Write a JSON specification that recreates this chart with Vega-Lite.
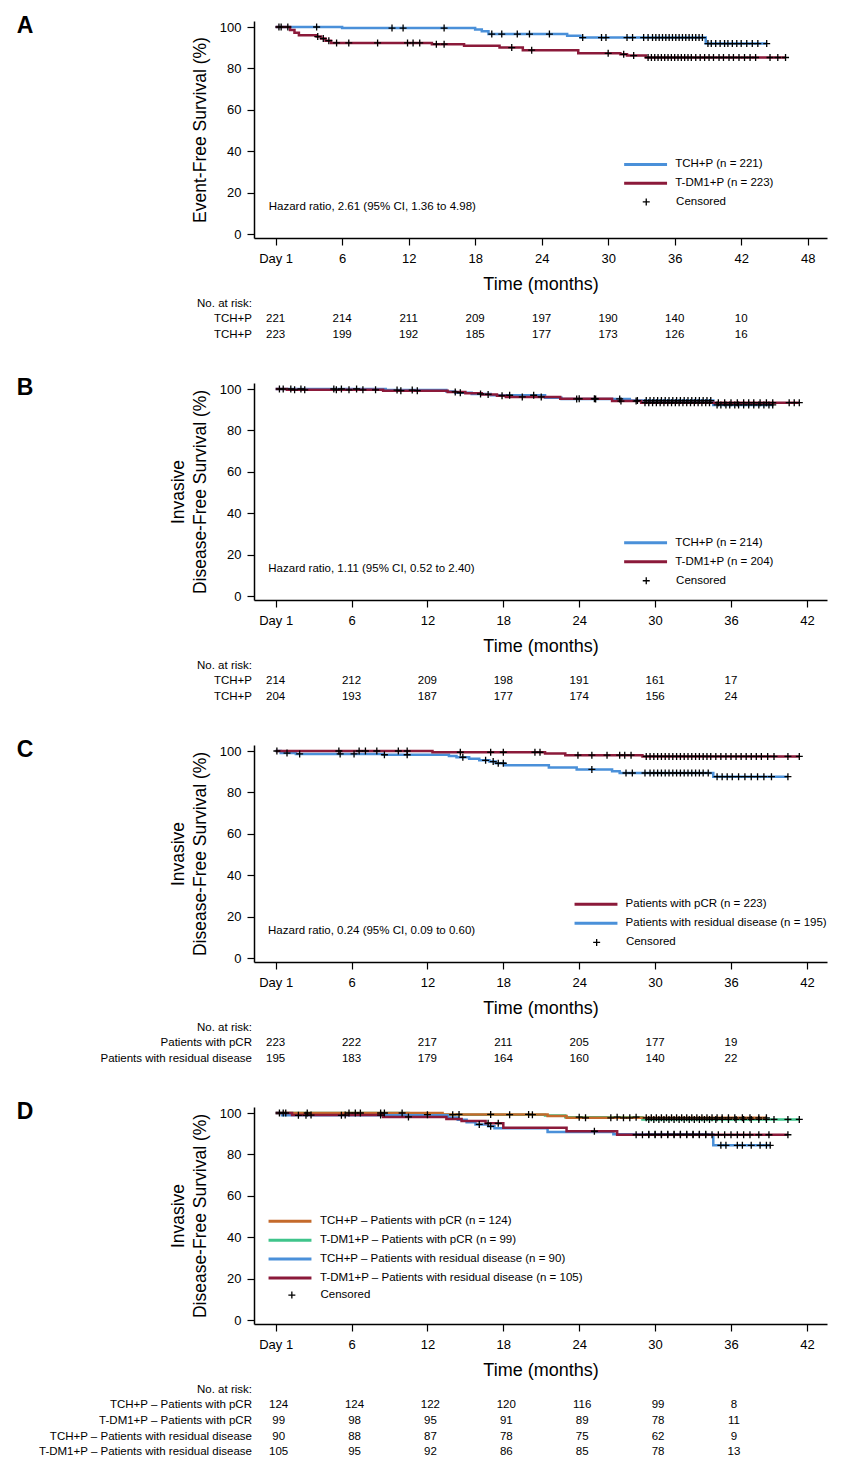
{
  "$schema": "https://vega.github.io/schema/vega-lite/v6.json",
  "padding": {"left": 16, "top": 14, "right": 2, "bottom": 2},
  "spacing": 33,
  "resolve": {"scale": {"color": "independent", "shape": "independent"}, "legend": {"color": "independent", "shape": "independent"}},
  "config": {
    "view": {"stroke": null},
    "font": "Liberation Sans",
    "axis": {"grid": false, "domainColor": "black", "domainWidth": 1.5, "tickColor": "black", "tickWidth": 1.2, "tickSize": 7, "labelColor": "black", "labelFontSize": 13, "labelPadding": 7, "labelFlush": false, "titleColor": "black", "titleFontWeight": "normal"},
    "axisX": {"titleFontSize": 18, "titlePadding": 10},
    "axisY": {"titleFontSize": 17.5, "titlePadding": 10, "labelPadding": 6, "titleLineHeight": 21.5},
    "legend": {"labelFontSize": 11.5, "labelColor": "black", "labelLimit": 400, "padding": 0, "rowPadding": 5.9},
    "text": {"fontSize": 11.5, "color": "black"}
  },
  "datasets": {
    "curvesA": [
      {"g": "TCH+P (n = 221)", "t": 0, "s": 100}, {"g": "TCH+P (n = 221)", "t": 6.0, "s": 99.5}, {"g": "TCH+P (n = 221)", "t": 18.0, "s": 98.8}, {"g": "TCH+P (n = 221)", "t": 18.6, "s": 98.0}, {"g": "TCH+P (n = 221)", "t": 19.2, "s": 96.6}, {"g": "TCH+P (n = 221)", "t": 26.3, "s": 95.8}, {"g": "TCH+P (n = 221)", "t": 27.5, "s": 94.9}, {"g": "TCH+P (n = 221)", "t": 38.8, "s": 92.0}, {"g": "TCH+P (n = 221)", "t": 44.3, "s": 92.0},
      {"g": "T-DM1+P (n = 223)", "t": 0, "s": 100}, {"g": "T-DM1+P (n = 223)", "t": 1.3, "s": 98.6}, {"g": "T-DM1+P (n = 223)", "t": 1.7, "s": 97.2}, {"g": "T-DM1+P (n = 223)", "t": 2.1, "s": 96.0}, {"g": "T-DM1+P (n = 223)", "t": 3.7, "s": 95.4}, {"g": "T-DM1+P (n = 223)", "t": 4.1, "s": 94.4}, {"g": "T-DM1+P (n = 223)", "t": 4.5, "s": 93.4}, {"g": "T-DM1+P (n = 223)", "t": 5.0, "s": 92.3}, {"g": "T-DM1+P (n = 223)", "t": 14.1, "s": 91.7}, {"g": "T-DM1+P (n = 223)", "t": 17.0, "s": 90.9}, {"g": "T-DM1+P (n = 223)", "t": 20.2, "s": 90.1}, {"g": "T-DM1+P (n = 223)", "t": 22.3, "s": 88.8}, {"g": "T-DM1+P (n = 223)", "t": 27.3, "s": 87.3}, {"g": "T-DM1+P (n = 223)", "t": 31.1, "s": 86.8}, {"g": "T-DM1+P (n = 223)", "t": 31.7, "s": 86.2}, {"g": "T-DM1+P (n = 223)", "t": 33.4, "s": 85.3}, {"g": "T-DM1+P (n = 223)", "t": 46.0, "s": 85.3}
    ],
    "censA": [
      {"t": 0.3, "s": 100}, {"t": 3.7, "s": 100}, {"t": 10.5, "s": 99.5}, {"t": 11.5, "s": 99.5}, {"t": 15.2, "s": 99.5}, {"t": 19.5, "s": 96.6}, {"t": 20.4, "s": 96.6}, {"t": 21.8, "s": 96.6}, {"t": 22.9, "s": 96.6}, {"t": 24.7, "s": 96.6}, {"t": 27.7, "s": 94.9}, {"t": 29.4, "s": 94.9}, {"t": 29.8, "s": 94.9}, {"t": 31.7, "s": 94.9}, {"t": 32.2, "s": 94.9}, {"t": 33.2, "s": 94.9}, {"t": 33.6, "s": 94.9}, {"t": 34.0, "s": 94.9}, {"t": 34.3, "s": 94.9}, {"t": 34.6, "s": 94.9}, {"t": 34.9, "s": 94.9}, {"t": 35.2, "s": 94.9}, {"t": 35.5, "s": 94.9}, {"t": 35.8, "s": 94.9}, {"t": 36.1, "s": 94.9}, {"t": 36.4, "s": 94.9}, {"t": 36.7, "s": 94.9}, {"t": 37.0, "s": 94.9}, {"t": 37.3, "s": 94.9}, {"t": 37.6, "s": 94.9}, {"t": 37.9, "s": 94.9}, {"t": 38.2, "s": 94.9}, {"t": 38.5, "s": 94.9}, {"t": 39.0, "s": 92.0}, {"t": 39.3, "s": 92.0}, {"t": 39.7, "s": 92.0}, {"t": 40.1, "s": 92.0}, {"t": 40.5, "s": 92.0}, {"t": 40.8, "s": 92.0}, {"t": 41.2, "s": 92.0}, {"t": 41.6, "s": 92.0}, {"t": 42.0, "s": 92.0}, {"t": 42.5, "s": 92.0}, {"t": 43.0, "s": 92.0}, {"t": 43.5, "s": 92.0}, {"t": 44.3, "s": 92.0},
      {"t": 0.5, "s": 100}, {"t": 1.1, "s": 100}, {"t": 3.8, "s": 95.4}, {"t": 4.3, "s": 94.4}, {"t": 4.8, "s": 93.4}, {"t": 5.5, "s": 92.3}, {"t": 6.6, "s": 92.3}, {"t": 9.2, "s": 92.3}, {"t": 11.9, "s": 92.3}, {"t": 12.4, "s": 92.3}, {"t": 13.0, "s": 92.3}, {"t": 14.5, "s": 91.7}, {"t": 15.2, "s": 91.7}, {"t": 21.3, "s": 90.1}, {"t": 23.1, "s": 88.8}, {"t": 30.0, "s": 87.3}, {"t": 31.4, "s": 86.8}, {"t": 32.3, "s": 86.2}, {"t": 33.6, "s": 85.3}, {"t": 33.9, "s": 85.3}, {"t": 34.2, "s": 85.3}, {"t": 34.5, "s": 85.3}, {"t": 34.8, "s": 85.3}, {"t": 35.1, "s": 85.3}, {"t": 35.4, "s": 85.3}, {"t": 35.7, "s": 85.3}, {"t": 36.0, "s": 85.3}, {"t": 36.3, "s": 85.3}, {"t": 36.6, "s": 85.3}, {"t": 36.9, "s": 85.3}, {"t": 37.2, "s": 85.3}, {"t": 37.5, "s": 85.3}, {"t": 37.9, "s": 85.3}, {"t": 38.3, "s": 85.3}, {"t": 38.7, "s": 85.3}, {"t": 39.1, "s": 85.3}, {"t": 39.5, "s": 85.3}, {"t": 40.0, "s": 85.3}, {"t": 40.4, "s": 85.3}, {"t": 40.9, "s": 85.3}, {"t": 41.3, "s": 85.3}, {"t": 41.8, "s": 85.3}, {"t": 42.3, "s": 85.3}, {"t": 42.8, "s": 85.3}, {"t": 43.3, "s": 85.3}, {"t": 44.6, "s": 85.3}, {"t": 45.3, "s": 85.3}, {"t": 46.0, "s": 85.3}
    ],
    "riskA": [
      {"row": 1, "t": 0, "n": 221}, {"row": 1, "t": 6, "n": 214}, {"row": 1, "t": 12, "n": 211}, {"row": 1, "t": 18, "n": 209}, {"row": 1, "t": 24, "n": 197}, {"row": 1, "t": 30, "n": 190}, {"row": 1, "t": 36, "n": 140}, {"row": 1, "t": 42, "n": 10},
      {"row": 2, "t": 0, "n": 223}, {"row": 2, "t": 6, "n": 199}, {"row": 2, "t": 12, "n": 192}, {"row": 2, "t": 18, "n": 185}, {"row": 2, "t": 24, "n": 177}, {"row": 2, "t": 30, "n": 173}, {"row": 2, "t": 36, "n": 126}, {"row": 2, "t": 42, "n": 16}
    ],
    "labelsA": [{"row": 0, "label": "No. at risk:"}, {"row": 1, "label": "TCH+P"}, {"row": 2, "label": "TCH+P"}],
    "curvesB": [
      {"g": "TCH+P (n = 214)", "t": 0, "s": 100}, {"g": "TCH+P (n = 214)", "t": 8.7, "s": 99.5}, {"g": "TCH+P (n = 214)", "t": 13.5, "s": 98.8}, {"g": "TCH+P (n = 214)", "t": 14.2, "s": 98.2}, {"g": "TCH+P (n = 214)", "t": 15.5, "s": 97.6}, {"g": "TCH+P (n = 214)", "t": 17.0, "s": 97.0}, {"g": "TCH+P (n = 214)", "t": 21.3, "s": 95.8}, {"g": "TCH+P (n = 214)", "t": 22.6, "s": 95.2}, {"g": "TCH+P (n = 214)", "t": 28.0, "s": 94.4}, {"g": "TCH+P (n = 214)", "t": 34.6, "s": 92.3}, {"g": "TCH+P (n = 214)", "t": 39.3, "s": 92.3},
      {"g": "T-DM1+P (n = 204)", "t": 0, "s": 100}, {"g": "T-DM1+P (n = 204)", "t": 0.9, "s": 99.6}, {"g": "T-DM1+P (n = 204)", "t": 8.5, "s": 99.2}, {"g": "T-DM1+P (n = 204)", "t": 13.6, "s": 98.6}, {"g": "T-DM1+P (n = 204)", "t": 15.0, "s": 98.0}, {"g": "T-DM1+P (n = 204)", "t": 16.3, "s": 97.4}, {"g": "T-DM1+P (n = 204)", "t": 17.5, "s": 96.8}, {"g": "T-DM1+P (n = 204)", "t": 18.2, "s": 96.2}, {"g": "T-DM1+P (n = 204)", "t": 22.5, "s": 95.3}, {"g": "T-DM1+P (n = 204)", "t": 26.6, "s": 94.2}, {"g": "T-DM1+P (n = 204)", "t": 28.9, "s": 93.4}, {"g": "T-DM1+P (n = 204)", "t": 41.4, "s": 93.4}
    ],
    "censB": [
      {"t": 0.3, "s": 100}, {"t": 1.2, "s": 100}, {"t": 2.0, "s": 100}, {"t": 4.6, "s": 100}, {"t": 5.2, "s": 100}, {"t": 6.4, "s": 100}, {"t": 9.6, "s": 99.5}, {"t": 10.8, "s": 99.5}, {"t": 14.6, "s": 98.2}, {"t": 16.2, "s": 97.6}, {"t": 18.5, "s": 97.0}, {"t": 20.4, "s": 97.0}, {"t": 23.8, "s": 95.2}, {"t": 25.3, "s": 95.2}, {"t": 27.2, "s": 95.2}, {"t": 28.6, "s": 94.4}, {"t": 29.3, "s": 94.4}, {"t": 29.6, "s": 94.4}, {"t": 29.9, "s": 94.4}, {"t": 30.2, "s": 94.4}, {"t": 30.5, "s": 94.4}, {"t": 30.8, "s": 94.4}, {"t": 31.1, "s": 94.4}, {"t": 31.4, "s": 94.4}, {"t": 31.7, "s": 94.4}, {"t": 32.0, "s": 94.4}, {"t": 32.3, "s": 94.4}, {"t": 32.6, "s": 94.4}, {"t": 32.9, "s": 94.4}, {"t": 33.2, "s": 94.4}, {"t": 33.5, "s": 94.4}, {"t": 33.8, "s": 94.4}, {"t": 34.1, "s": 94.4}, {"t": 34.4, "s": 94.4}, {"t": 34.9, "s": 92.3}, {"t": 35.2, "s": 92.3}, {"t": 35.6, "s": 92.3}, {"t": 35.9, "s": 92.3}, {"t": 36.3, "s": 92.3}, {"t": 36.6, "s": 92.3}, {"t": 37.0, "s": 92.3}, {"t": 37.4, "s": 92.3}, {"t": 37.8, "s": 92.3}, {"t": 38.2, "s": 92.3}, {"t": 38.6, "s": 92.3}, {"t": 39.0, "s": 92.3}, {"t": 39.3, "s": 92.3},
      {"t": 0.6, "s": 100}, {"t": 1.5, "s": 99.6}, {"t": 2.3, "s": 99.6}, {"t": 4.8, "s": 99.6}, {"t": 5.8, "s": 99.6}, {"t": 6.9, "s": 99.6}, {"t": 7.9, "s": 99.6}, {"t": 9.9, "s": 99.2}, {"t": 11.2, "s": 99.2}, {"t": 14.2, "s": 98.6}, {"t": 16.8, "s": 97.4}, {"t": 17.9, "s": 96.8}, {"t": 19.5, "s": 96.2}, {"t": 21.0, "s": 96.2}, {"t": 24.0, "s": 95.3}, {"t": 25.2, "s": 95.3}, {"t": 27.3, "s": 94.2}, {"t": 28.5, "s": 94.2}, {"t": 29.2, "s": 93.4}, {"t": 29.5, "s": 93.4}, {"t": 29.8, "s": 93.4}, {"t": 30.1, "s": 93.4}, {"t": 30.4, "s": 93.4}, {"t": 30.7, "s": 93.4}, {"t": 31.0, "s": 93.4}, {"t": 31.3, "s": 93.4}, {"t": 31.6, "s": 93.4}, {"t": 31.9, "s": 93.4}, {"t": 32.2, "s": 93.4}, {"t": 32.5, "s": 93.4}, {"t": 32.8, "s": 93.4}, {"t": 33.1, "s": 93.4}, {"t": 33.4, "s": 93.4}, {"t": 33.7, "s": 93.4}, {"t": 34.0, "s": 93.4}, {"t": 34.3, "s": 93.4}, {"t": 35.0, "s": 93.4}, {"t": 35.5, "s": 93.4}, {"t": 36.0, "s": 93.4}, {"t": 36.5, "s": 93.4}, {"t": 37.0, "s": 93.4}, {"t": 37.4, "s": 93.4}, {"t": 37.8, "s": 93.4}, {"t": 38.3, "s": 93.4}, {"t": 38.8, "s": 93.4}, {"t": 39.3, "s": 93.4}, {"t": 40.6, "s": 93.4}, {"t": 41.0, "s": 93.4}, {"t": 41.4, "s": 93.4}
    ],
    "riskB": [
      {"row": 1, "t": 0, "n": 214}, {"row": 1, "t": 6, "n": 212}, {"row": 1, "t": 12, "n": 209}, {"row": 1, "t": 18, "n": 198}, {"row": 1, "t": 24, "n": 191}, {"row": 1, "t": 30, "n": 161}, {"row": 1, "t": 36, "n": 17},
      {"row": 2, "t": 0, "n": 204}, {"row": 2, "t": 6, "n": 193}, {"row": 2, "t": 12, "n": 187}, {"row": 2, "t": 18, "n": 177}, {"row": 2, "t": 24, "n": 174}, {"row": 2, "t": 30, "n": 156}, {"row": 2, "t": 36, "n": 24}
    ],
    "labelsB": [{"row": 0, "label": "No. at risk:"}, {"row": 1, "label": "TCH+P"}, {"row": 2, "label": "TCH+P"}],
    "curvesC": [
      {"g": "Patients with residual disease (n = 195)", "t": 0, "s": 100}, {"g": "Patients with residual disease (n = 195)", "t": 0.4, "s": 99.0}, {"g": "Patients with residual disease (n = 195)", "t": 1.6, "s": 98.6}, {"g": "Patients with residual disease (n = 195)", "t": 8.5, "s": 98.2}, {"g": "Patients with residual disease (n = 195)", "t": 13.7, "s": 97.6}, {"g": "Patients with residual disease (n = 195)", "t": 14.3, "s": 97.0}, {"g": "Patients with residual disease (n = 195)", "t": 15.3, "s": 96.3}, {"g": "Patients with residual disease (n = 195)", "t": 16.1, "s": 95.5}, {"g": "Patients with residual disease (n = 195)", "t": 16.9, "s": 94.9}, {"g": "Patients with residual disease (n = 195)", "t": 17.4, "s": 94.1}, {"g": "Patients with residual disease (n = 195)", "t": 18.1, "s": 93.1}, {"g": "Patients with residual disease (n = 195)", "t": 21.6, "s": 92.0}, {"g": "Patients with residual disease (n = 195)", "t": 23.8, "s": 91.1}, {"g": "Patients with residual disease (n = 195)", "t": 26.6, "s": 90.2}, {"g": "Patients with residual disease (n = 195)", "t": 27.2, "s": 89.4}, {"g": "Patients with residual disease (n = 195)", "t": 34.6, "s": 87.6}, {"g": "Patients with residual disease (n = 195)", "t": 40.5, "s": 87.6},
      {"g": "Patients with pCR (n = 223)", "t": 0, "s": 100}, {"g": "Patients with pCR (n = 223)", "t": 12.4, "s": 99.4}, {"g": "Patients with pCR (n = 223)", "t": 21.3, "s": 98.8}, {"g": "Patients with pCR (n = 223)", "t": 22.9, "s": 98.0}, {"g": "Patients with pCR (n = 223)", "t": 29.0, "s": 97.4}, {"g": "Patients with pCR (n = 223)", "t": 41.4, "s": 97.4}
    ],
    "censC": [
      {"t": 0.1, "s": 100}, {"t": 5.0, "s": 100}, {"t": 6.6, "s": 100}, {"t": 7.1, "s": 100}, {"t": 8.0, "s": 100}, {"t": 9.7, "s": 100}, {"t": 10.4, "s": 100}, {"t": 14.6, "s": 99.4}, {"t": 17.0, "s": 99.4}, {"t": 18.0, "s": 99.4}, {"t": 20.5, "s": 99.4}, {"t": 20.9, "s": 99.4}, {"t": 23.9, "s": 98.0}, {"t": 25.0, "s": 98.0}, {"t": 26.2, "s": 98.0}, {"t": 27.2, "s": 98.0}, {"t": 27.6, "s": 98.0}, {"t": 28.1, "s": 98.0}, {"t": 29.3, "s": 97.4}, {"t": 29.6, "s": 97.4}, {"t": 29.9, "s": 97.4}, {"t": 30.2, "s": 97.4}, {"t": 30.5, "s": 97.4}, {"t": 30.8, "s": 97.4}, {"t": 31.1, "s": 97.4}, {"t": 31.4, "s": 97.4}, {"t": 31.7, "s": 97.4}, {"t": 32.0, "s": 97.4}, {"t": 32.3, "s": 97.4}, {"t": 32.6, "s": 97.4}, {"t": 32.9, "s": 97.4}, {"t": 33.2, "s": 97.4}, {"t": 33.5, "s": 97.4}, {"t": 33.8, "s": 97.4}, {"t": 34.1, "s": 97.4}, {"t": 34.4, "s": 97.4}, {"t": 34.8, "s": 97.4}, {"t": 35.2, "s": 97.4}, {"t": 35.6, "s": 97.4}, {"t": 36.0, "s": 97.4}, {"t": 36.4, "s": 97.4}, {"t": 36.8, "s": 97.4}, {"t": 37.2, "s": 97.4}, {"t": 37.6, "s": 97.4}, {"t": 38.0, "s": 97.4}, {"t": 38.4, "s": 97.4}, {"t": 38.9, "s": 97.4}, {"t": 39.4, "s": 97.4}, {"t": 40.5, "s": 97.4}, {"t": 41.4, "s": 97.4},
      {"t": 0.9, "s": 99.0}, {"t": 1.9, "s": 98.6}, {"t": 5.1, "s": 98.6}, {"t": 6.2, "s": 98.6}, {"t": 8.6, "s": 98.2}, {"t": 10.4, "s": 98.2}, {"t": 14.8, "s": 97.0}, {"t": 16.6, "s": 95.5}, {"t": 17.2, "s": 94.9}, {"t": 17.6, "s": 94.1}, {"t": 18.0, "s": 94.1}, {"t": 25.0, "s": 91.1}, {"t": 27.7, "s": 89.4}, {"t": 28.2, "s": 89.4}, {"t": 29.2, "s": 89.4}, {"t": 29.6, "s": 89.4}, {"t": 29.9, "s": 89.4}, {"t": 30.2, "s": 89.4}, {"t": 30.5, "s": 89.4}, {"t": 30.8, "s": 89.4}, {"t": 31.1, "s": 89.4}, {"t": 31.4, "s": 89.4}, {"t": 31.7, "s": 89.4}, {"t": 32.0, "s": 89.4}, {"t": 32.3, "s": 89.4}, {"t": 32.6, "s": 89.4}, {"t": 32.9, "s": 89.4}, {"t": 33.2, "s": 89.4}, {"t": 33.5, "s": 89.4}, {"t": 33.8, "s": 89.4}, {"t": 34.2, "s": 89.4}, {"t": 34.9, "s": 87.6}, {"t": 35.3, "s": 87.6}, {"t": 35.7, "s": 87.6}, {"t": 36.1, "s": 87.6}, {"t": 36.6, "s": 87.6}, {"t": 37.1, "s": 87.6}, {"t": 37.6, "s": 87.6}, {"t": 38.1, "s": 87.6}, {"t": 38.6, "s": 87.6}, {"t": 39.2, "s": 87.6}, {"t": 40.5, "s": 87.6}
    ],
    "riskC": [
      {"row": 1, "t": 0, "n": 223}, {"row": 1, "t": 6, "n": 222}, {"row": 1, "t": 12, "n": 217}, {"row": 1, "t": 18, "n": 211}, {"row": 1, "t": 24, "n": 205}, {"row": 1, "t": 30, "n": 177}, {"row": 1, "t": 36, "n": 19},
      {"row": 2, "t": 0, "n": 195}, {"row": 2, "t": 6, "n": 183}, {"row": 2, "t": 12, "n": 179}, {"row": 2, "t": 18, "n": 164}, {"row": 2, "t": 24, "n": 160}, {"row": 2, "t": 30, "n": 140}, {"row": 2, "t": 36, "n": 22}
    ],
    "labelsC": [{"row": 0, "label": "No. at risk:"}, {"row": 1, "label": "Patients with pCR"}, {"row": 2, "label": "Patients with residual disease"}],
    "curvesD": [
      {"g": "T-DM1+P – Patients with pCR (n = 99)", "t": 0, "s": 100}, {"g": "T-DM1+P – Patients with pCR (n = 99)", "t": 10.5, "s": 99.2}, {"g": "T-DM1+P – Patients with pCR (n = 99)", "t": 21.3, "s": 98.8}, {"g": "T-DM1+P – Patients with pCR (n = 99)", "t": 22.9, "s": 98.0}, {"g": "T-DM1+P – Patients with pCR (n = 99)", "t": 29.0, "s": 96.9}, {"g": "T-DM1+P – Patients with pCR (n = 99)", "t": 41.4, "s": 96.9},
      {"g": "TCH+P – Patients with pCR (n = 124)", "t": 0, "s": 100}, {"g": "TCH+P – Patients with pCR (n = 124)", "t": 13.2, "s": 99.3}, {"g": "TCH+P – Patients with pCR (n = 124)", "t": 21.5, "s": 98.6}, {"g": "TCH+P – Patients with pCR (n = 124)", "t": 23.0, "s": 97.7}, {"g": "TCH+P – Patients with pCR (n = 124)", "t": 38.8, "s": 97.7},
      {"g": "TCH+P – Patients with residual disease (n = 90)", "t": 0, "s": 100}, {"g": "TCH+P – Patients with residual disease (n = 90)", "t": 0.5, "s": 98.9}, {"g": "TCH+P – Patients with residual disease (n = 90)", "t": 13.6, "s": 97.8}, {"g": "TCH+P – Patients with residual disease (n = 90)", "t": 14.4, "s": 96.7}, {"g": "TCH+P – Patients with residual disease (n = 90)", "t": 15.1, "s": 95.6}, {"g": "TCH+P – Patients with residual disease (n = 90)", "t": 15.8, "s": 94.5}, {"g": "TCH+P – Patients with residual disease (n = 90)", "t": 16.8, "s": 93.6}, {"g": "TCH+P – Patients with residual disease (n = 90)", "t": 17.3, "s": 92.7}, {"g": "TCH+P – Patients with residual disease (n = 90)", "t": 21.5, "s": 90.8}, {"g": "TCH+P – Patients with residual disease (n = 90)", "t": 26.7, "s": 89.7}, {"g": "TCH+P – Patients with residual disease (n = 90)", "t": 34.6, "s": 84.4}, {"g": "TCH+P – Patients with residual disease (n = 90)", "t": 39.1, "s": 84.4},
      {"g": "T-DM1+P – Patients with residual disease (n = 105)", "t": 0, "s": 100}, {"g": "T-DM1+P – Patients with residual disease (n = 105)", "t": 1.3, "s": 99.0}, {"g": "T-DM1+P – Patients with residual disease (n = 105)", "t": 8.5, "s": 98.1}, {"g": "T-DM1+P – Patients with residual disease (n = 105)", "t": 13.5, "s": 97.1}, {"g": "T-DM1+P – Patients with residual disease (n = 105)", "t": 14.7, "s": 96.1}, {"g": "T-DM1+P – Patients with residual disease (n = 105)", "t": 16.6, "s": 95.0}, {"g": "T-DM1+P – Patients with residual disease (n = 105)", "t": 18.0, "s": 92.9}, {"g": "T-DM1+P – Patients with residual disease (n = 105)", "t": 23.0, "s": 91.2}, {"g": "T-DM1+P – Patients with residual disease (n = 105)", "t": 27.0, "s": 89.5}, {"g": "T-DM1+P – Patients with residual disease (n = 105)", "t": 40.5, "s": 89.5}
    ],
    "censD": [
      {"t": 0.3, "s": 100}, {"t": 5.8, "s": 100}, {"t": 6.7, "s": 100}, {"t": 8.3, "s": 100}, {"t": 10.0, "s": 100}, {"t": 14.5, "s": 99.3}, {"t": 17.0, "s": 99.3}, {"t": 20.0, "s": 99.3}, {"t": 24.5, "s": 97.7}, {"t": 26.5, "s": 97.7}, {"t": 27.5, "s": 97.7}, {"t": 28.0, "s": 97.7}, {"t": 29.3, "s": 97.7}, {"t": 29.7, "s": 97.7}, {"t": 30.1, "s": 97.7}, {"t": 30.5, "s": 97.7}, {"t": 30.9, "s": 97.7}, {"t": 31.3, "s": 97.7}, {"t": 31.7, "s": 97.7}, {"t": 32.1, "s": 97.7}, {"t": 32.5, "s": 97.7}, {"t": 32.9, "s": 97.7}, {"t": 33.3, "s": 97.7}, {"t": 33.7, "s": 97.7}, {"t": 34.1, "s": 97.7}, {"t": 34.5, "s": 97.7}, {"t": 34.9, "s": 97.7}, {"t": 35.3, "s": 97.7}, {"t": 35.8, "s": 97.7}, {"t": 36.3, "s": 97.7}, {"t": 36.9, "s": 97.7}, {"t": 37.5, "s": 97.7}, {"t": 38.2, "s": 97.7}, {"t": 38.8, "s": 97.7},
      {"t": 0.8, "s": 100}, {"t": 2.5, "s": 100}, {"t": 6.3, "s": 100}, {"t": 8.6, "s": 100}, {"t": 12.0, "s": 99.2}, {"t": 14.0, "s": 99.2}, {"t": 18.5, "s": 99.2}, {"t": 20.3, "s": 99.2}, {"t": 24.0, "s": 98.0}, {"t": 27.0, "s": 98.0}, {"t": 28.5, "s": 98.0}, {"t": 29.5, "s": 96.9}, {"t": 29.9, "s": 96.9}, {"t": 30.3, "s": 96.9}, {"t": 30.7, "s": 96.9}, {"t": 31.1, "s": 96.9}, {"t": 31.5, "s": 96.9}, {"t": 31.9, "s": 96.9}, {"t": 32.3, "s": 96.9}, {"t": 32.7, "s": 96.9}, {"t": 33.1, "s": 96.9}, {"t": 33.5, "s": 96.9}, {"t": 33.9, "s": 96.9}, {"t": 34.3, "s": 96.9}, {"t": 34.8, "s": 96.9}, {"t": 35.3, "s": 96.9}, {"t": 35.8, "s": 96.9}, {"t": 36.4, "s": 96.9}, {"t": 37.0, "s": 96.9}, {"t": 37.6, "s": 96.9}, {"t": 38.2, "s": 96.9}, {"t": 38.8, "s": 96.9}, {"t": 39.4, "s": 96.9}, {"t": 40.5, "s": 96.9}, {"t": 41.4, "s": 96.9},
      {"t": 1.8, "s": 98.9}, {"t": 2.4, "s": 98.9}, {"t": 5.2, "s": 98.9}, {"t": 16.1, "s": 94.5}, {"t": 17.0, "s": 93.6}, {"t": 29.5, "s": 89.7}, {"t": 30.0, "s": 89.7}, {"t": 30.5, "s": 89.7}, {"t": 31.0, "s": 89.7}, {"t": 31.5, "s": 89.7}, {"t": 32.0, "s": 89.7}, {"t": 32.5, "s": 89.7}, {"t": 33.0, "s": 89.7}, {"t": 33.5, "s": 89.7}, {"t": 34.0, "s": 89.7}, {"t": 35.2, "s": 84.4}, {"t": 35.6, "s": 84.4}, {"t": 36.5, "s": 84.4}, {"t": 36.9, "s": 84.4}, {"t": 37.6, "s": 84.4}, {"t": 38.3, "s": 84.4}, {"t": 38.8, "s": 84.4}, {"t": 39.1, "s": 84.4},
      {"t": 0.6, "s": 100}, {"t": 2.8, "s": 99.0}, {"t": 5.5, "s": 99.0}, {"t": 8.3, "s": 99.0}, {"t": 10.5, "s": 98.1}, {"t": 16.8, "s": 95.0}, {"t": 17.6, "s": 95.0}, {"t": 25.2, "s": 91.2}, {"t": 28.5, "s": 89.5}, {"t": 29.0, "s": 89.5}, {"t": 29.5, "s": 89.5}, {"t": 30.0, "s": 89.5}, {"t": 30.5, "s": 89.5}, {"t": 31.0, "s": 89.5}, {"t": 31.5, "s": 89.5}, {"t": 32.0, "s": 89.5}, {"t": 32.5, "s": 89.5}, {"t": 33.0, "s": 89.5}, {"t": 33.5, "s": 89.5}, {"t": 34.0, "s": 89.5}, {"t": 34.5, "s": 89.5}, {"t": 35.0, "s": 89.5}, {"t": 35.5, "s": 89.5}, {"t": 36.0, "s": 89.5}, {"t": 36.5, "s": 89.5}, {"t": 37.0, "s": 89.5}, {"t": 37.5, "s": 89.5}, {"t": 38.2, "s": 89.5}, {"t": 39.0, "s": 89.5}, {"t": 40.5, "s": 89.5}
    ],
    "riskD": [
      {"row": 1, "t": 0, "n": 124}, {"row": 1, "t": 6, "n": 124}, {"row": 1, "t": 12, "n": 122}, {"row": 1, "t": 18, "n": 120}, {"row": 1, "t": 24, "n": 116}, {"row": 1, "t": 30, "n": 99}, {"row": 1, "t": 36, "n": 8},
      {"row": 2, "t": 0, "n": 99}, {"row": 2, "t": 6, "n": 98}, {"row": 2, "t": 12, "n": 95}, {"row": 2, "t": 18, "n": 91}, {"row": 2, "t": 24, "n": 89}, {"row": 2, "t": 30, "n": 78}, {"row": 2, "t": 36, "n": 11},
      {"row": 3, "t": 0, "n": 90}, {"row": 3, "t": 6, "n": 88}, {"row": 3, "t": 12, "n": 87}, {"row": 3, "t": 18, "n": 78}, {"row": 3, "t": 24, "n": 75}, {"row": 3, "t": 30, "n": 62}, {"row": 3, "t": 36, "n": 9},
      {"row": 4, "t": 0, "n": 105}, {"row": 4, "t": 6, "n": 95}, {"row": 4, "t": 12, "n": 92}, {"row": 4, "t": 18, "n": 86}, {"row": 4, "t": 24, "n": 85}, {"row": 4, "t": 30, "n": 78}, {"row": 4, "t": 36, "n": 13}
    ],
    "labelsD": [{"row": 0, "label": "No. at risk:"}, {"row": 1, "label": "TCH+P – Patients with pCR"}, {"row": 2, "label": "T-DM1+P – Patients with pCR"}, {"row": 3, "label": "TCH+P – Patients with residual disease"}, {"row": 4, "label": "T-DM1+P – Patients with residual disease"}]
  },
  "vconcat": [
    {
      "spacing": 3,
      "vconcat": [
        {
          "width": 573, "height": 217,
          "layer": [
            {
              "data": {"name": "curvesA"},
              "mark": {"type": "line", "interpolate": "step-after", "strokeWidth": 2.5},
              "encoding": {
                "x": {"field": "t", "type": "quantitative", "scale": {"domain": [-1.95, 49.74], "nice": false, "zero": false}, "axis": {"values": [0, 6, 12, 18, 24, 30, 36, 42, 48], "labelExpr": "datum.value === 0 ? 'Day 1' : datum.label", "title": "Time (months)"}},
                "y": {"field": "s", "type": "quantitative", "scale": {"domain": [-1.8, 102.9], "nice": false, "zero": false}, "axis": {"values": [0, 20, 40, 60, 80, 100], "title": "Event-Free Survival (%)"}},
                "color": {"field": "g", "type": "nominal", "scale": {"domain": ["TCH+P (n = 221)", "T-DM1+P (n = 223)"], "range": ["#4a90d9", "#8b1a3a"]}, "legend": {"title": null, "orient": "none", "legendX": 384.6, "legendY": 136.4, "symbolType": "M-3.9,0H3.9", "symbolSize": 121, "symbolStrokeWidth": 3, "labelOffset": 22.6}}
              }
            },
            {
              "data": {"name": "censA"},
              "mark": {"type": "point", "filled": false, "color": "black", "strokeWidth": 1.3, "size": 49, "opacity": 1},
              "encoding": {
                "x": {"field": "t", "type": "quantitative"},
                "y": {"field": "s", "type": "quantitative"},
                "shape": {"datum": "Censored", "scale": {"range": ["M-1,0H1M0,-1V1"]}, "legend": {"title": null, "orient": "none", "legendX": 386.5, "legendY": 175.2, "symbolSize": 49, "symbolStrokeWidth": 1.3, "symbolStrokeColor": "black", "labelOffset": 24.1}}
              }
            },
            {
              "data": {"values": [{"label": "Hazard ratio, 2.61 (95% CI, 1.36 to 4.98)"}]},
              "mark": {"type": "text", "align": "left", "baseline": "middle", "fontSize": 11.5},
              "encoding": {"x": {"datum": -0.62}, "y": {"datum": 13.1}, "text": {"field": "label"}}
            },
            {
              "data": {"values": [{"panel": "A"}]},
              "mark": {"type": "text", "align": "left", "baseline": "middle", "fontSize": 23, "fontWeight": "bold"},
              "encoding": {"x": {"datum": -23.36}, "y": {"datum": 100.5}, "text": {"field": "panel"}}
            }
          ]
        },
        {
          "width": 573, "height": 46.8,
          "layer": [
            {
              "data": {"name": "riskA"},
              "mark": {"type": "text", "baseline": "middle", "fontSize": 11.5},
              "encoding": {
                "x": {"field": "t", "type": "quantitative", "scale": {"domain": [-1.95, 49.74], "nice": false, "zero": false}, "axis": null},
                "y": {"field": "row", "type": "ordinal", "scale": {"domain": [0, 1, 2]}, "axis": null},
                "text": {"field": "n"}
              }
            },
            {
              "data": {"name": "labelsA"},
              "mark": {"type": "text", "align": "right", "baseline": "middle", "fontSize": 11.5},
              "encoding": {"x": {"datum": -2.13}, "y": {"field": "row", "type": "ordinal"}, "text": {"field": "label"}}
            }
          ]
        }
      ]
    },
    {
      "spacing": 3,
      "vconcat": [
        {
          "width": 573, "height": 217,
          "layer": [
            {
              "data": {"name": "curvesB"},
              "mark": {"type": "line", "interpolate": "step-after", "strokeWidth": 2.5},
              "encoding": {
                "x": {"field": "t", "type": "quantitative", "scale": {"domain": [-1.71, 43.59], "nice": false, "zero": false}, "axis": {"values": [0, 6, 12, 18, 24, 30, 36, 42], "labelExpr": "datum.value === 0 ? 'Day 1' : datum.label", "title": "Time (months)"}},
                "y": {"field": "s", "type": "quantitative", "scale": {"domain": [-1.8, 102.9], "nice": false, "zero": false}, "axis": {"values": [0, 20, 40, 60, 80, 100], "title": ["Invasive", "Disease-Free Survival (%)"]}},
                "color": {"field": "g", "type": "nominal", "scale": {"domain": ["TCH+P (n = 214)", "T-DM1+P (n = 204)"], "range": ["#4a90d9", "#8b1a3a"]}, "legend": {"title": null, "orient": "none", "legendX": 384.6, "legendY": 152.8, "symbolType": "M-3.9,0H3.9", "symbolSize": 121, "symbolStrokeWidth": 3, "labelOffset": 22.6}}
              }
            },
            {
              "data": {"name": "censB"},
              "mark": {"type": "point", "filled": false, "color": "black", "strokeWidth": 1.3, "size": 49, "opacity": 1},
              "encoding": {
                "x": {"field": "t", "type": "quantitative"},
                "y": {"field": "s", "type": "quantitative"},
                "shape": {"datum": "Censored", "scale": {"range": ["M-1,0H1M0,-1V1"]}, "legend": {"title": null, "orient": "none", "legendX": 386.5, "legendY": 192, "symbolSize": 49, "symbolStrokeWidth": 1.3, "symbolStrokeColor": "black", "labelOffset": 24.1}}
              }
            },
            {
              "data": {"values": [{"label": "Hazard ratio, 1.11 (95% CI, 0.52 to 2.40)"}]},
              "mark": {"type": "text", "align": "left", "baseline": "middle", "fontSize": 11.5},
              "encoding": {"x": {"datum": -0.58}, "y": {"datum": 13.0}, "text": {"field": "label"}}
            },
            {
              "data": {"values": [{"panel": "B"}]},
              "mark": {"type": "text", "align": "left", "baseline": "middle", "fontSize": 23, "fontWeight": "bold"},
              "encoding": {"x": {"datum": -20.47}, "y": {"datum": 100.5}, "text": {"field": "panel"}}
            }
          ]
        },
        {
          "width": 573, "height": 46.8,
          "layer": [
            {
              "data": {"name": "riskB"},
              "mark": {"type": "text", "baseline": "middle", "fontSize": 11.5},
              "encoding": {
                "x": {"field": "t", "type": "quantitative", "scale": {"domain": [-1.71, 43.59], "nice": false, "zero": false}, "axis": null},
                "y": {"field": "row", "type": "ordinal", "scale": {"domain": [0, 1, 2]}, "axis": null},
                "text": {"field": "n"}
              }
            },
            {
              "data": {"name": "labelsB"},
              "mark": {"type": "text", "align": "right", "baseline": "middle", "fontSize": 11.5},
              "encoding": {"x": {"datum": -1.87}, "y": {"field": "row", "type": "ordinal"}, "text": {"field": "label"}}
            }
          ]
        }
      ]
    },
    {
      "spacing": 3,
      "vconcat": [
        {
          "width": 573, "height": 217,
          "layer": [
            {
              "data": {"name": "curvesC"},
              "mark": {"type": "line", "interpolate": "step-after", "strokeWidth": 2.5},
              "encoding": {
                "x": {"field": "t", "type": "quantitative", "scale": {"domain": [-1.71, 43.59], "nice": false, "zero": false}, "axis": {"values": [0, 6, 12, 18, 24, 30, 36, 42], "labelExpr": "datum.value === 0 ? 'Day 1' : datum.label", "title": "Time (months)"}},
                "y": {"field": "s", "type": "quantitative", "scale": {"domain": [-1.8, 102.9], "nice": false, "zero": false}, "axis": {"values": [0, 20, 40, 60, 80, 100], "title": ["Invasive", "Disease-Free Survival (%)"]}},
                "color": {"field": "g", "type": "nominal", "scale": {"domain": ["Patients with pCR (n = 223)", "Patients with residual disease (n = 195)"], "range": ["#8b1a3a", "#4a90d9"]}, "legend": {"title": null, "orient": "none", "legendX": 335, "legendY": 152.3, "symbolType": "M-3.9,0H3.9", "symbolSize": 121, "symbolStrokeWidth": 3, "labelOffset": 22.6}}
              }
            },
            {
              "data": {"name": "censC"},
              "mark": {"type": "point", "filled": false, "color": "black", "strokeWidth": 1.3, "size": 49, "opacity": 1},
              "encoding": {
                "x": {"field": "t", "type": "quantitative"},
                "y": {"field": "s", "type": "quantitative"},
                "shape": {"datum": "Censored", "scale": {"range": ["M-1,0H1M0,-1V1"]}, "legend": {"title": null, "orient": "none", "legendX": 336.9, "legendY": 191.7, "symbolSize": 49, "symbolStrokeWidth": 1.3, "symbolStrokeColor": "black", "labelOffset": 23.5}}
              }
            },
            {
              "data": {"values": [{"label": "Hazard ratio, 0.24 (95% CI, 0.09 to 0.60)"}]},
              "mark": {"type": "text", "align": "left", "baseline": "middle", "fontSize": 11.5},
              "encoding": {"x": {"datum": -0.6}, "y": {"datum": 13.2}, "text": {"field": "label"}}
            },
            {
              "data": {"values": [{"panel": "C"}]},
              "mark": {"type": "text", "align": "left", "baseline": "middle", "fontSize": 23, "fontWeight": "bold"},
              "encoding": {"x": {"datum": -20.47}, "y": {"datum": 100.5}, "text": {"field": "panel"}}
            }
          ]
        },
        {
          "width": 573, "height": 46.8,
          "layer": [
            {
              "data": {"name": "riskC"},
              "mark": {"type": "text", "baseline": "middle", "fontSize": 11.5},
              "encoding": {
                "x": {"field": "t", "type": "quantitative", "scale": {"domain": [-1.71, 43.59], "nice": false, "zero": false}, "axis": null},
                "y": {"field": "row", "type": "ordinal", "scale": {"domain": [0, 1, 2]}, "axis": null},
                "text": {"field": "n"}
              }
            },
            {
              "data": {"name": "labelsC"},
              "mark": {"type": "text", "align": "right", "baseline": "middle", "fontSize": 11.5},
              "encoding": {"x": {"datum": -1.87}, "y": {"field": "row", "type": "ordinal"}, "text": {"field": "label"}}
            }
          ]
        }
      ]
    },
    {
      "spacing": 3,
      "vconcat": [
        {
          "width": 573, "height": 217,
          "layer": [
            {
              "data": {"name": "curvesD"},
              "mark": {"type": "line", "interpolate": "step-after", "strokeWidth": 2.5},
              "encoding": {
                "x": {"field": "t", "type": "quantitative", "scale": {"domain": [-1.71, 43.59], "nice": false, "zero": false}, "axis": {"values": [0, 6, 12, 18, 24, 30, 36, 42], "labelExpr": "datum.value === 0 ? 'Day 1' : datum.label", "title": "Time (months)"}},
                "y": {"field": "s", "type": "quantitative", "scale": {"domain": [-1.8, 102.9], "nice": false, "zero": false}, "axis": {"values": [0, 20, 40, 60, 80, 100], "title": ["Invasive", "Disease-Free Survival (%)"]}},
                "color": {"field": "g", "type": "nominal", "scale": {"domain": ["TCH+P – Patients with pCR (n = 124)", "T-DM1+P – Patients with pCR (n = 99)", "TCH+P – Patients with residual disease (n = 90)", "T-DM1+P – Patients with residual disease (n = 105)"], "range": ["#c46a2c", "#3fc48b", "#4a90d9", "#8b1a3a"]}, "legend": {"title": null, "orient": "none", "legendX": 29, "legendY": 107.3, "symbolType": "M-3.9,0H3.9", "symbolSize": 121, "symbolStrokeWidth": 3, "labelOffset": 23}}
              }
            },
            {
              "data": {"name": "censD"},
              "mark": {"type": "point", "filled": false, "color": "black", "strokeWidth": 1.3, "size": 49, "opacity": 1},
              "encoding": {
                "x": {"field": "t", "type": "quantitative"},
                "y": {"field": "s", "type": "quantitative"},
                "shape": {"datum": "Censored", "scale": {"range": ["M-1,0H1M0,-1V1"]}, "legend": {"title": null, "orient": "none", "legendX": 32.1, "legendY": 182.3, "symbolSize": 49, "symbolStrokeWidth": 1.3, "symbolStrokeColor": "black", "labelOffset": 22.9}}
              }
            },
            {
              "data": {"values": [{"panel": "D"}]},
              "mark": {"type": "text", "align": "left", "baseline": "middle", "fontSize": 23, "fontWeight": "bold"},
              "encoding": {"x": {"datum": -20.47}, "y": {"datum": 100.5}, "text": {"field": "panel"}}
            }
          ]
        },
        {
          "width": 573, "height": 78,
          "layer": [
            {
              "data": {"name": "riskD"},
              "mark": {"type": "text", "baseline": "middle", "fontSize": 11.5, "dx": 3},
              "encoding": {
                "x": {"field": "t", "type": "quantitative", "scale": {"domain": [-1.71, 43.59], "nice": false, "zero": false}, "axis": null},
                "y": {"field": "row", "type": "ordinal", "scale": {"domain": [0, 1, 2, 3, 4]}, "axis": null},
                "text": {"field": "n"}
              }
            },
            {
              "data": {"name": "labelsD"},
              "mark": {"type": "text", "align": "right", "baseline": "middle", "fontSize": 11.5},
              "encoding": {"x": {"datum": -1.87}, "y": {"field": "row", "type": "ordinal"}, "text": {"field": "label"}}
            }
          ]
        }
      ]
    }
  ]
}
